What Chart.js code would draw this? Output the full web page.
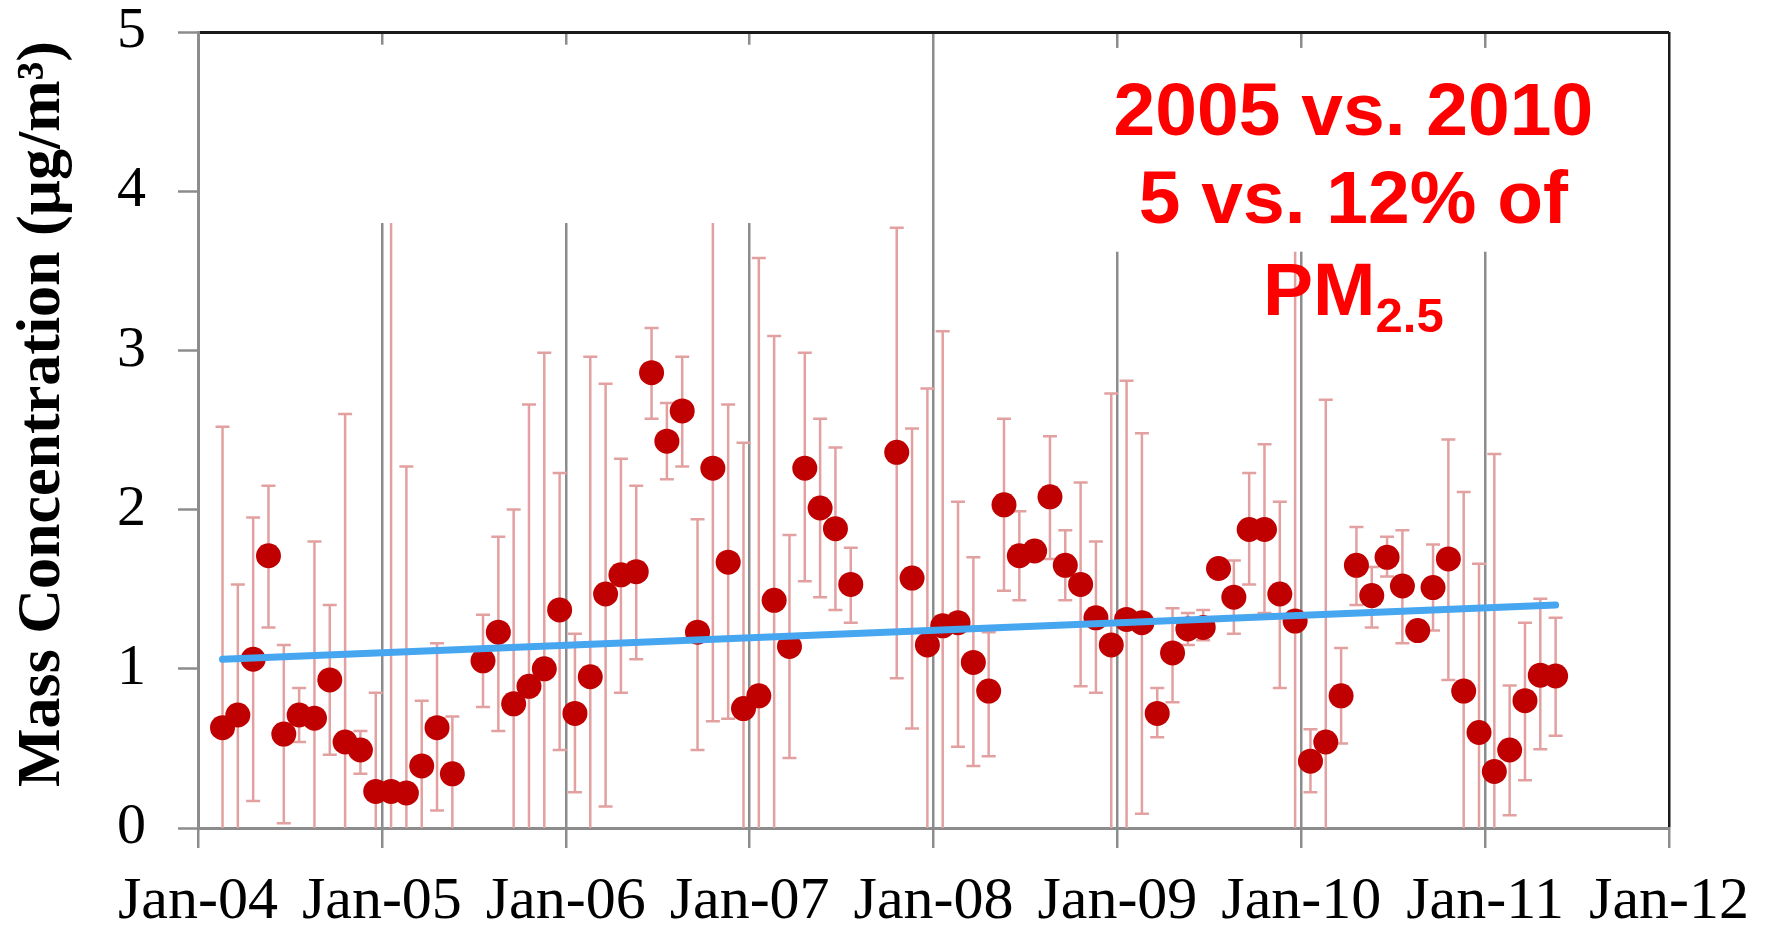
<!DOCTYPE html>
<html>
<head>
<meta charset="utf-8">
<script src="https://cdn.jsdelivr.net/npm/chart.js@4"></script>
<style>
  html, body { margin: 0; padding: 0; background: #fff; }
  #wrap { width: 1767px; height: 927px; }
</style>
</head>
<body>
<div id="wrap"><canvas id="massChart"></canvas></div>
<script>
// sample month, monthly mean and the error bar ends (ug/m3)
const sampleMonths = [
    '2004-02', '2004-03', '2004-04', '2004-05', '2004-06', '2004-07', '2004-08', '2004-09',
    '2004-10', '2004-11', '2004-12', '2005-01', '2005-02', '2005-03', '2005-04', '2005-05',
    '2005-07', '2005-08', '2005-09', '2005-10', '2005-11', '2005-12', '2006-01', '2006-02',
    '2006-03', '2006-04', '2006-05', '2006-06', '2006-07', '2006-08', '2006-09', '2006-10',
    '2006-11', '2006-12', '2007-01', '2007-02', '2007-03', '2007-04', '2007-05', '2007-06',
    '2007-07',
    '2007-10', '2007-11', '2007-12', '2008-01', '2008-02', '2008-03', '2008-04', '2008-05',
    '2008-06', '2008-07', '2008-08', '2008-09', '2008-10', '2008-11', '2008-12', '2009-01',
    '2009-02', '2009-03', '2009-04', '2009-05', '2009-06', '2009-07', '2009-08', '2009-09',
    '2009-10', '2009-11', '2009-12', '2010-01', '2010-02', '2010-03', '2010-04', '2010-05',
    '2010-06', '2010-07', '2010-08', '2010-09', '2010-10', '2010-11', '2010-12', '2011-01',
    '2011-02', '2011-03', '2011-04', '2011-05'
];
const massValues = [
    0.63, 0.71, 1.06, 1.71, 0.59, 0.71, 0.69, 0.93, 0.54, 0.49, 0.23, 0.23, 0.22, 0.39, 0.63, 0.34,
    1.05, 1.23, 0.78, 0.89, 1.00, 1.37, 0.72, 0.95, 1.47, 1.59, 1.61, 2.86, 2.43, 2.62, 1.23, 2.26,
    1.67, 0.75, 0.83, 1.43, 1.14, 2.26, 2.01, 1.88, 1.53,
    2.36, 1.57, 1.15, 1.27, 1.29, 1.04, 0.86, 2.03, 1.71, 1.74, 2.08, 1.65, 1.53, 1.32, 1.15, 1.31,
    1.29, 0.72, 1.10, 1.25, 1.26, 1.63, 1.45, 1.875, 1.875, 1.47, 1.30, 0.42, 0.54, 0.83, 1.65, 1.46,
    1.70, 1.52, 1.24, 1.51, 1.69, 0.86, 0.60, 0.355, 0.49, 0.80, 0.96, 0.955
];
const errHigh = [
    2.52, 1.53, 1.95, 2.15, 1.15, 0.88, 1.80, 1.40, 2.60, 0.61, 0.85, 4.50, 2.27, 0.80, 1.16, 0.70,
    1.34, 1.83, 2.00, 2.66, 2.985, 2.23, 1.22, 2.96, 2.79, 2.32, 2.15, 3.14, 2.67, 2.96, 1.94, 4.50,
    2.66, 2.42, 3.58, 3.09, 1.84, 2.985, 2.57, 2.39, 1.76,
    3.77, 2.51, 2.76, 3.12, 2.05, 1.70, 1.23, 2.57, 1.99, 1.80, 2.46, 1.87, 2.17, 1.80, 2.73, 2.81,
    2.48, 0.88, 1.38, 1.35, 1.37, 1.68, 1.68, 2.23, 2.41, 2.05, 4.50, 0.62, 2.69, 1.13, 1.89, 1.64,
    1.83, 1.87, 1.29, 1.78, 2.44, 2.11, 1.66, 2.35, 0.895, 1.29, 1.44, 1.32
];
const errLow = [
    0, 0, 0.17, 1.26, 0.03, 0.54, 0, 0.46, 0, 0.34, 0, 0, 0, 0, 0.11, 0,
    0.76, 0.61, 0, 0, 0, 0.49, 0.225, 0, 0.135, 0.85, 1.06, 2.57, 2.19, 2.27, 0.49, 0.67,
    0.686, 0, 0, 0, 0.44, 1.55, 1.45, 1.37, 1.29,
    0.94, 0.625, 0, 0, 0.51, 0.39, 0.45, 1.49, 1.43, 1.69, 1.69, 1.43, 0.89, 0.85, 0, 0,
    0.09, 0.57, 0.79, 1.15, 1.18, 1.58, 1.22, 1.53, 1.35, 0.88, 0, 0.225, 0, 0.53, 1.40, 1.26,
    1.58, 1.16, 1.19, 1.24, 0.93, 0, 0, 0, 0.08, 0.30, 0.495, 0.58
];

// linear trend drawn across the record
const trendMonths = ['2004-02', '2011-05'];
const trendValues = [1.06, 1.40];

const yearLabels = ['Jan-04', 'Jan-05', 'Jan-06', 'Jan-07', 'Jan-08', 'Jan-09', 'Jan-10', 'Jan-11', 'Jan-12'];
const yTicks = [0, 1, 2, 3, 4, 5];
const yTitle = 'Mass Concentration (μg/m³)';

const noteLines = ['2005 vs. 2010', '5 vs. 12% of'];
const noteMain = 'PM';
const noteSub = '2.5';

// months since Jan 2004, sample sits a little past mid-month
function monthPos(s) {
    const parts = s.split('-').map(Number);
    return (parts[0] - 2004) * 12 + (parts[1] - 1) + 0.6;
}

const GRAY = '#8c8c8c';
const FRAME = '#1a1a1a';
const SERIF = '"Liberation Serif", "Times New Roman", serif';
const SANS = '"Liberation Sans", Arial, sans-serif';

// error bars under the markers
const errorBars = {
    id: 'errorBars',
    beforeDatasetsDraw(chart) {
        const { ctx, chartArea, scales: { x, y } } = chart;
        ctx.save();
        ctx.beginPath();
        ctx.rect(chartArea.left, chartArea.top, chartArea.width, chartArea.height);
        ctx.clip();
        ctx.strokeStyle = '#e3a0a0';
        ctx.lineWidth = 2.5;
        const cap = 7;
        sampleMonths.forEach(function(m, i) {
            const px = x.getPixelForValue(monthPos(m));
            const top = y.getPixelForValue(errHigh[i]);
            const bot = y.getPixelForValue(errLow[i]);
            ctx.beginPath();
            ctx.moveTo(px, top);
            ctx.lineTo(px, bot);
            ctx.moveTo(px - cap, top);
            ctx.lineTo(px + cap, top);
            if (errLow[i] > 0) {
                ctx.moveTo(px - cap, bot);
                ctx.lineTo(px + cap, bot);
            }
            ctx.stroke();
        });
        ctx.restore();
    }
};

// white boxes of the original figure, the red note and the axis title
const notes = {
    id: 'notes',
    afterDatasetsDraw(chart) {
        const { ctx, chartArea, scales: { x, y } } = chart;
        const boxes = [[10, 40, 3.8, 4.92], [52, 94, 3.62, 4.9]];
        ctx.save();
        ctx.fillStyle = '#ffffff';
        boxes.forEach(function(b) {
            const x0 = x.getPixelForValue(b[0]), x1 = x.getPixelForValue(b[1]);
            const y0 = y.getPixelForValue(b[3]), y1 = y.getPixelForValue(b[2]);
            ctx.fillRect(x0, y0, x1 - x0, y1 - y0);
        });

        const cx = x.getPixelForValue(75.4);
        ctx.fillStyle = '#ff0000';
        ctx.textAlign = 'center';
        ctx.textBaseline = 'alphabetic';
        ctx.font = 'bold 75px ' + SANS;
        ctx.fillText(noteLines[0], cx, y.getPixelForValue(4.35));
        ctx.fillText(noteLines[1], cx, y.getPixelForValue(3.80));

        const base = y.getPixelForValue(3.22);
        const wMain = ctx.measureText(noteMain).width;
        ctx.font = 'bold 49px ' + SANS;
        const wSub = ctx.measureText(noteSub).width;
        const left = cx - (wMain + wSub) / 2;
        ctx.textAlign = 'left';
        ctx.fillText(noteSub, left + wMain, base + 17);
        ctx.font = 'bold 75px ' + SANS;
        ctx.fillText(noteMain, left, base);

        // rotated y axis title
        ctx.fillStyle = '#000';
        ctx.font = 'bold 62px ' + SERIF;
        ctx.textAlign = 'center';
        ctx.textBaseline = 'middle';
        ctx.translate(43, (chartArea.top + chartArea.bottom) / 2 - 16);
        ctx.rotate(-Math.PI / 2);
        ctx.fillText(yTitle, 0, 0);
        ctx.restore();
    }
};

new Chart(document.getElementById('massChart'), {
    type: 'scatter',
    data: {
        datasets: [{
            type: 'line',
            label: 'Trend',
            data: trendMonths.map((m, i) => ({ x: monthPos(m), y: trendValues[i] })),
            borderColor: '#47a6f0',
            borderWidth: 7,
            borderCapStyle: 'round',
            pointRadius: 0,
            fill: false
        }, {
            label: 'Mass',
            data: sampleMonths.map((m, i) => ({ x: monthPos(m), y: massValues[i] })),
            backgroundColor: '#c00000',
            borderColor: '#c00000',
            borderWidth: 0,
            pointRadius: 12.5,
            pointHoverRadius: 12.5
        }]
    },
    options: {
        responsive: true,
        maintainAspectRatio: false,
        animation: false,
        events: [],
        layout: {
            padding: { left: 0, right: 97, top: 32, bottom: 0 }
        },
        scales: {
            x: {
                type: 'linear',
                min: 0,
                max: 96,
                afterBuildTicks: function(scale) {
                    scale.ticks = yearLabels.map((_, i) => ({ value: i * 12 }));
                },
                afterFit: function(scale) {
                    scale.height = 99;
                },
                grid: {
                    color: ctx => (ctx.tick && ctx.tick.value === 96 ? FRAME : GRAY),
                    lineWidth: 2.5,
                    tickLength: 20,
                    tickColor: GRAY,
                    tickWidth: 2.5
                },
                border: { color: GRAY, width: 3 },
                ticks: {
                    autoSkip: false,
                    maxRotation: 0,
                    padding: 18,
                    color: '#000',
                    font: { family: SERIF, size: 60 },
                    callback: (value, index) => yearLabels[index]
                }
            },
            y: {
                min: 0,
                max: 5,
                afterBuildTicks: function(scale) {
                    scale.ticks = yTicks.map(v => ({ value: v }));
                },
                afterFit: function(scale) {
                    scale.width = 198;
                    scale.paddingTop = 0;
                    scale.paddingBottom = 0;
                },
                grid: {
                    color: ctx => (ctx.tick && ctx.tick.value === 5 ? FRAME : 'rgba(0,0,0,0)'),
                    lineWidth: 3,
                    tickLength: 20,
                    tickColor: GRAY,
                    tickWidth: 2.5
                },
                border: { color: GRAY, width: 3 },
                ticks: {
                    padding: 32,
                    color: '#000',
                    font: { family: SERIF, size: 58 },
                    callback: value => String(value)
                }
            }
        },
        plugins: {
            legend: { display: false },
            tooltip: { enabled: false }
        }
    },
    plugins: [errorBars, notes]
});
</script>
</body>
</html>
